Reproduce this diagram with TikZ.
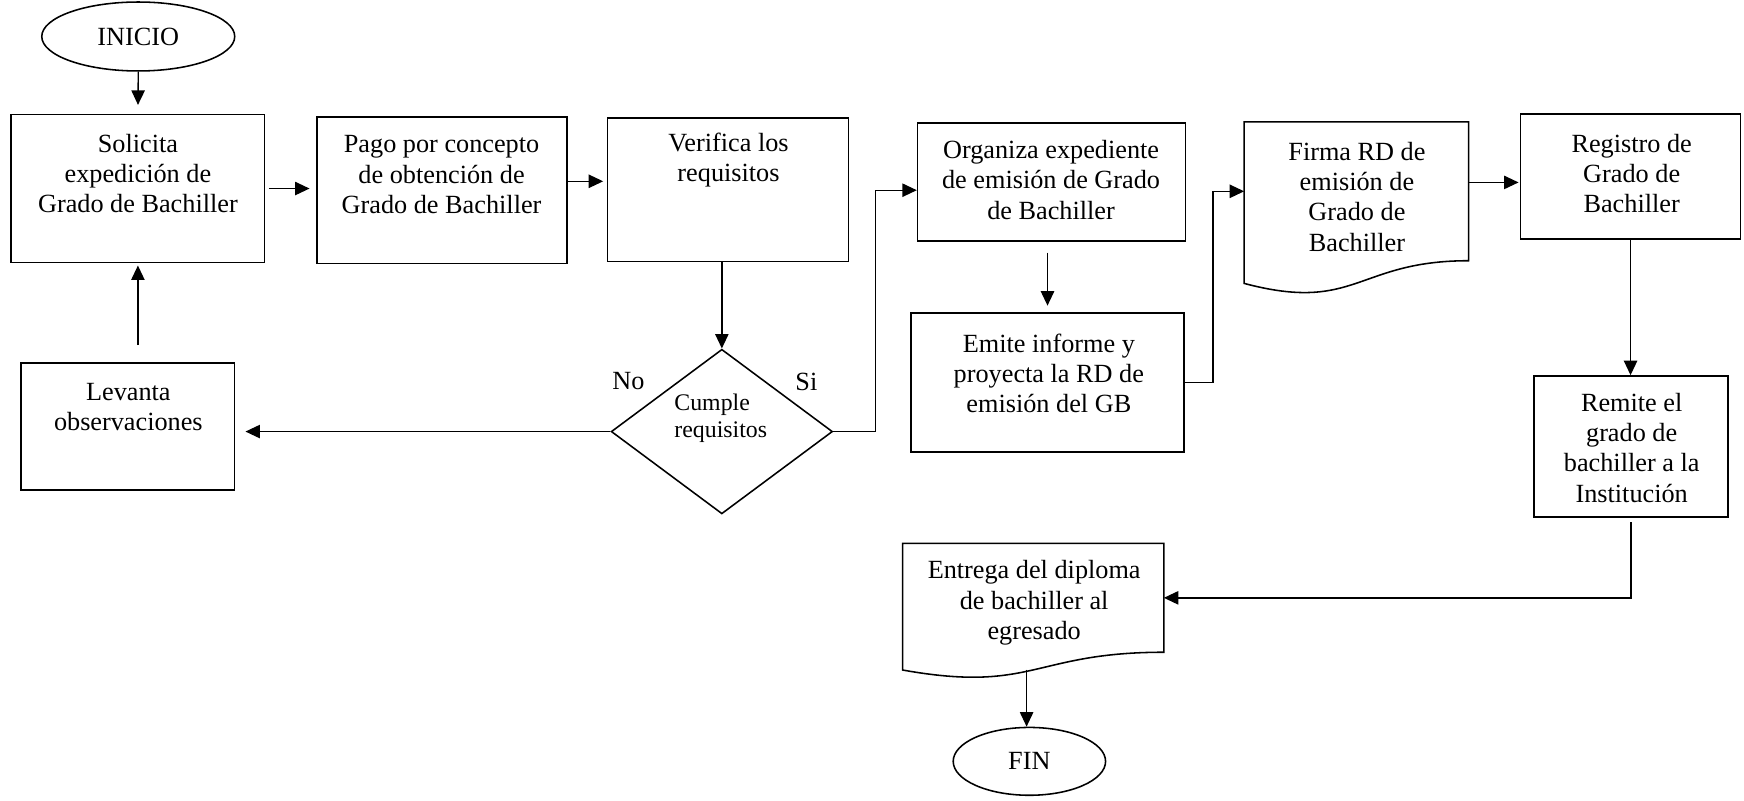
\documentclass[tikz,border=0pt]{standalone}
\usepackage{fontspec}
\setmainfont{Liberation Serif}
\usetikzlibrary{arrows.meta,shapes.geometric,calc}
\newcommand\bodyfnt{\fontsize{11.8pt}{13.65pt}\selectfont}
\newcommand\condfnt{\fontsize{10.7pt}{12pt}\selectfont}
\begin{document}
\begin{tikzpicture}[x=0.5pt,y=-0.5pt,
  box/.style={draw, line width=0.7pt, rectangle, inner sep=0pt},
  docarea/.style={rectangle, inner sep=0pt},
  docline/.style={draw, line width=0.7pt, line join=miter},
  oval/.style={draw, line width=0.7pt, ellipse, inner sep=0pt, font=\bodyfnt},
  decision/.style={draw, line width=0.7pt, diamond, inner sep=0pt},
  txt/.style={font=\bodyfnt, align=center, inner sep=0pt},
  arr/.style={-{Triangle[length=6.5pt,width=6pt]}, line width=0.6pt},
  link/.style={line width=0.6pt}]
\useasboundingbox (0,0) rectangle (1568,720);

% terminals
\node[oval, minimum width=86.75pt, minimum height=31pt] (inicio) at (124.3,32.8) {INICIO};
\node[oval, minimum width=68.5pt, minimum height=30.5pt] (fin) at (925.5,684.5) {FIN};

% process boxes
\node[box, minimum width=114pt, minimum height=66.5pt] (solicita) at (124,169.5) {};
\node[box, minimum width=112.5pt, minimum height=66pt] (pago) at (397.5,171) {};
\node[box, minimum width=108.5pt, minimum height=64.5pt] (verifica) at (654.5,170.5) {};
\node[box, minimum width=96pt, minimum height=57pt] (levanta) at (115,383.5) {};
\node[box, minimum width=120.5pt, minimum height=53pt] (organiza) at (945.5,163.5) {};
\node[box, minimum width=122.8pt, minimum height=62.5pt] (emite) at (941.8,344) {};
\node[box, minimum width=99pt, minimum height=56.25pt] (registro) at (1466,158.75) {};
\node[box, minimum width=87.3pt, minimum height=63.5pt] (remite) at (1466.3,401.5) {};

% decision
\node[decision, minimum width=99.5pt, minimum height=74pt] (cumple) at (649,388) {};

% document shapes (flat top, wavy bottom)
\node[docarea, minimum width=100.5pt, minimum height=62pt] (firma) at (1219.5,172) {};
\draw[docline] (firma.north west) -- (firma.north east) -- (firma.south east)
  .. controls (firma.south) and ($(firma.south)+(0,47.2)$) .. ($(firma.south west)+(0,20.4)$) -- cycle;
\node[docarea, minimum width=117pt, minimum height=48.5pt] (entrega) at (929,537.5) {};
\draw[docline] (entrega.north west) -- (entrega.north east) -- (entrega.south east)
  .. controls (entrega.south) and ($(entrega.south)+(0,37)$) .. ($(entrega.south west)+(0,16)$) -- cycle;
\coordinate (entrega-wave) at (923,602);

% texts
\node[txt] (solicita-t) at (124,156) {Solicita\\expedición de\\Grado de Bachiller};
\node[txt] (pago-t) at (397,157) {Pago por concepto\\de obtención de\\Grado de Bachiller};
\node[txt] (verifica-t) at (655,144) {Verifica los\\requisitos};
\node[txt] (levanta-t) at (115.4,365.7) {Levanta\\observaciones};
\node[txt] (organiza-t) at (945,161.8) {Organiza expediente\\de emisión de Grado\\de Bachiller};
\node[txt] (emite-t) at (943,335.7) {Emite informe y\\proyecta la RD de\\emisión del GB};
\node[txt] (firma-t) at (1220,176.8) {Firma RD de\\emisión de\\Grado de\\Bachiller};
\node[txt] (registro-t) at (1467,156) {Registro de\\Grado de\\Bachiller};
\node[txt] (remite-t) at (1467,402.4) {Remite el\\grado de\\bachiller a la\\Institución};
\node[txt] (entrega-t) at (929.8,542) {Entrega del diploma\\de bachiller al\\egresado};
\node[font=\condfnt, align=left, inner sep=0pt] (cumple-t) at (648,376) {Cumple\\requisitos};
\node[txt] (no-t) at (565,343) {No};
\node[txt] (si-t) at (725,343) {Si};

% connectors
\draw[arr, shorten >=4pt] (inicio.south) -- (solicita.north);
\draw[arr, shorten <=1.5pt, shorten >=3pt] (solicita.east) -- (solicita.east -| pago.west);
\draw[arr, shorten >=1.5pt] ([yshift=4pt]pago.east) -- ([yshift=4pt]pago.east -| verifica.west);
\draw[arr] (cumple.north |- verifica.south) -- (cumple.north);
\draw[arr, shorten >=4.5pt] (cumple.west) -- (cumple.west -| levanta.east);
\draw[arr, shorten <=7.75pt, shorten >=1pt] (solicita.south |- levanta.north) -- (solicita.south);
\draw[arr] (cumple.east) -- ++(38,0) |- ([yshift=-3.75pt]organiza.west);
\draw[arr, shorten <=5pt, shorten >=3pt] (emite.north |- organiza.south) -- (emite.north);
\draw[arr] (emite.east) -- ++(25.4,0) |- (firma.west);
\draw[arr, shorten >=0.5pt] ([yshift=4pt]firma.east) -- ([yshift=4pt]firma.east -| registro.west);
\draw[arr] (registro.south) -- (registro.south |- remite.north);
\draw[arr, shorten <=2pt] (remite.south) |- (entrega.east);
\draw[arr] (entrega-wave) -- (entrega-wave |- fin.north);
\end{tikzpicture}
\end{document}
